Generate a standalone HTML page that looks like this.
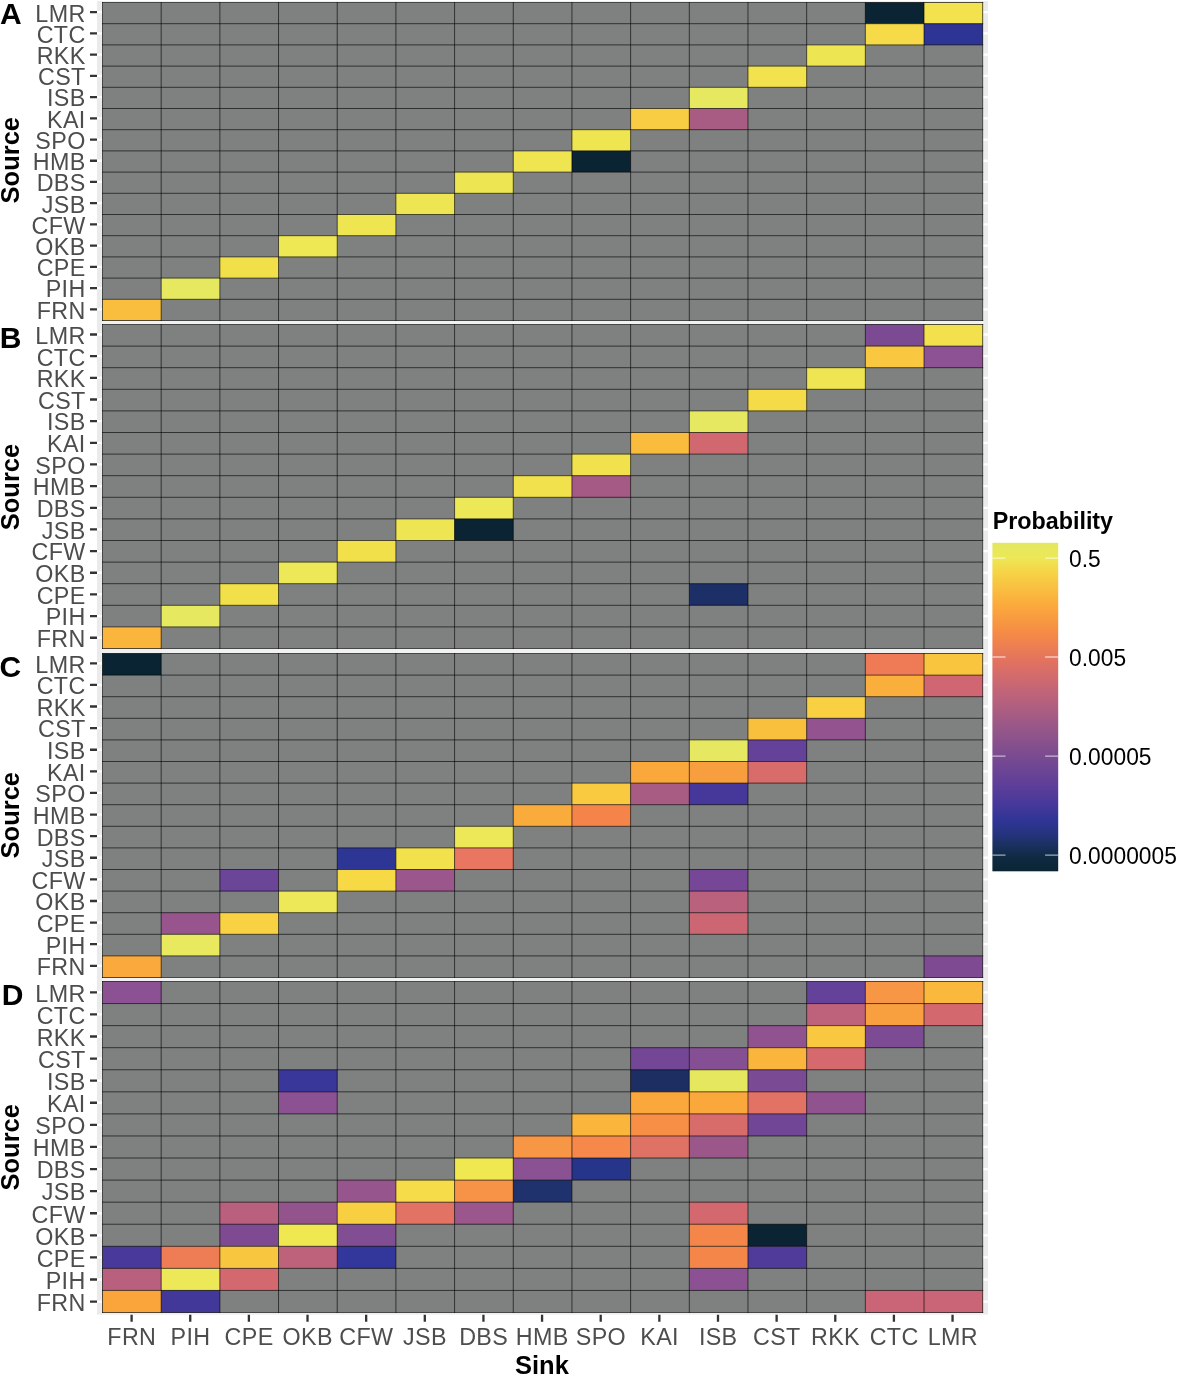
<!DOCTYPE html>
<html><head><meta charset="utf-8"><title>Source–Sink probability heatmaps</title>
<style>html,body{margin:0;padding:0;background:#fff}svg{display:block}text{font-family:"Liberation Sans",Arial,Helvetica,sans-serif}.ax{font-size:23.3px;fill:#4D4D4D;letter-spacing:0.35px}.ttl{font-size:25.5px;font-weight:bold;fill:#000}.tag{font-size:30px;font-weight:bold;fill:#000}.lg{font-size:22.8px;fill:#000}.lgt{font-size:23.3px;font-weight:bold;fill:#000}</style></head><body>
<svg width="1177" height="1374" viewBox="0 0 1177 1374">
<rect x="0" y="0" width="1177" height="1374" fill="#fff"/>
<rect x="97" y="1.1" width="891" height="1313.5" fill="#EBEBEB"/>
<rect x="101.4" y="1.6" width="882.4" height="1312" fill="#F1F1F1"/>
<path d="M97 12.20H988M97 33.42H988M97 54.64H988M97 75.86H988M97 97.09H988M97 118.31H988M97 139.53H988M97 160.75H988M97 181.97H988M97 203.19H988M97 224.41H988M97 245.64H988M97 266.86H988M97 288.08H988M97 309.30H988M97 334.50H988M97 356.16H988M97 377.82H988M97 399.48H988M97 421.14H988M97 442.80H988M97 464.46H988M97 486.12H988M97 507.79H988M97 529.45H988M97 551.11H988M97 572.77H988M97 594.43H988M97 616.09H988M97 637.75H988M97 663.30H988M97 684.91H988M97 706.51H988M97 728.12H988M97 749.73H988M97 771.34H988M97 792.94H988M97 814.55H988M97 836.16H988M97 857.76H988M97 879.37H988M97 900.98H988M97 922.59H988M97 944.19H988M97 965.80H988M97 992.30H988M97 1014.39H988M97 1036.49H988M97 1058.58H988M97 1080.67H988M97 1102.76H988M97 1124.86H988M97 1146.95H988M97 1169.04H988M97 1191.14H988M97 1213.23H988M97 1235.32H988M97 1257.41H988M97 1279.51H988M97 1301.60H988" stroke="#fff" stroke-width="2.3" fill="none"/>
<g id="panelA">
<rect x="102.5" y="2.5" width="880.20" height="318.00" fill="#7F8080"/>
<rect x="865.34" y="2.50" width="58.68" height="21.20" fill="#0B2433"/>
<rect x="924.02" y="2.50" width="58.68" height="21.20" fill="#F2E24E"/>
<rect x="865.34" y="23.70" width="58.68" height="21.20" fill="#F6DA48"/>
<rect x="924.02" y="23.70" width="58.68" height="21.20" fill="#2D3493"/>
<rect x="806.66" y="44.90" width="58.68" height="21.20" fill="#EEE552"/>
<rect x="747.98" y="66.10" width="58.68" height="21.20" fill="#F2E24E"/>
<rect x="689.30" y="87.30" width="58.68" height="21.20" fill="#E6E860"/>
<rect x="630.62" y="108.50" width="58.68" height="21.20" fill="#F8CD43"/>
<rect x="689.30" y="108.50" width="58.68" height="21.20" fill="#A85C83"/>
<rect x="571.94" y="129.70" width="58.68" height="21.20" fill="#EFE550"/>
<rect x="513.26" y="150.90" width="58.68" height="21.20" fill="#EFE550"/>
<rect x="571.94" y="150.90" width="58.68" height="21.20" fill="#0B2433"/>
<rect x="454.58" y="172.10" width="58.68" height="21.20" fill="#EEE552"/>
<rect x="395.90" y="193.30" width="58.68" height="21.20" fill="#EEE552"/>
<rect x="337.22" y="214.50" width="58.68" height="21.20" fill="#EFE550"/>
<rect x="278.54" y="235.70" width="58.68" height="21.20" fill="#EEE855"/>
<rect x="219.86" y="256.90" width="58.68" height="21.20" fill="#F1E04A"/>
<rect x="161.18" y="278.10" width="58.68" height="21.20" fill="#E6E860"/>
<rect x="102.50" y="299.30" width="58.68" height="21.20" fill="#F9BE3D"/>
<path d="M102.50 2.5V320.5M102.5 2.50H982.7M161.18 2.5V320.5M102.5 23.70H982.7M219.86 2.5V320.5M102.5 44.90H982.7M278.54 2.5V320.5M102.5 66.10H982.7M337.22 2.5V320.5M102.5 87.30H982.7M395.90 2.5V320.5M102.5 108.50H982.7M454.58 2.5V320.5M102.5 129.70H982.7M513.26 2.5V320.5M102.5 150.90H982.7M571.94 2.5V320.5M102.5 172.10H982.7M630.62 2.5V320.5M102.5 193.30H982.7M689.30 2.5V320.5M102.5 214.50H982.7M747.98 2.5V320.5M102.5 235.70H982.7M806.66 2.5V320.5M102.5 256.90H982.7M865.34 2.5V320.5M102.5 278.10H982.7M924.02 2.5V320.5M102.5 299.30H982.7M982.70 2.5V320.5M102.5 320.50H982.7" stroke="#000" stroke-width="0.62" fill="none" stroke-linecap="square"/>
</g>
<g id="panelB">
<rect x="102.5" y="324.5" width="880.20" height="324.00" fill="#7F8080"/>
<rect x="865.34" y="324.50" width="58.68" height="21.60" fill="#7B4A93"/>
<rect x="924.02" y="324.50" width="58.68" height="21.60" fill="#F3E04D"/>
<rect x="865.34" y="346.10" width="58.68" height="21.60" fill="#F9C740"/>
<rect x="924.02" y="346.10" width="58.68" height="21.60" fill="#8C5293"/>
<rect x="806.66" y="367.70" width="58.68" height="21.60" fill="#EFE552"/>
<rect x="747.98" y="389.30" width="58.68" height="21.60" fill="#F5DB47"/>
<rect x="689.30" y="410.90" width="58.68" height="21.60" fill="#E5E860"/>
<rect x="630.62" y="432.50" width="58.68" height="21.60" fill="#F9BC3D"/>
<rect x="689.30" y="432.50" width="58.68" height="21.60" fill="#D16870"/>
<rect x="571.94" y="454.10" width="58.68" height="21.60" fill="#F1E24D"/>
<rect x="513.26" y="475.70" width="58.68" height="21.60" fill="#F1E24D"/>
<rect x="571.94" y="475.70" width="58.68" height="21.60" fill="#A45A85"/>
<rect x="454.58" y="497.30" width="58.68" height="21.60" fill="#ECE858"/>
<rect x="395.90" y="518.90" width="58.68" height="21.60" fill="#EEE552"/>
<rect x="454.58" y="518.90" width="58.68" height="21.60" fill="#0B2433"/>
<rect x="337.22" y="540.50" width="58.68" height="21.60" fill="#F1E04A"/>
<rect x="278.54" y="562.10" width="58.68" height="21.60" fill="#ECE858"/>
<rect x="219.86" y="583.70" width="58.68" height="21.60" fill="#F1E04A"/>
<rect x="689.30" y="583.70" width="58.68" height="21.60" fill="#1C2F66"/>
<rect x="161.18" y="605.30" width="58.68" height="21.60" fill="#E6E860"/>
<rect x="102.50" y="626.90" width="58.68" height="21.60" fill="#FAB53C"/>
<path d="M102.50 324.5V648.5M102.5 324.50H982.7M161.18 324.5V648.5M102.5 346.10H982.7M219.86 324.5V648.5M102.5 367.70H982.7M278.54 324.5V648.5M102.5 389.30H982.7M337.22 324.5V648.5M102.5 410.90H982.7M395.90 324.5V648.5M102.5 432.50H982.7M454.58 324.5V648.5M102.5 454.10H982.7M513.26 324.5V648.5M102.5 475.70H982.7M571.94 324.5V648.5M102.5 497.30H982.7M630.62 324.5V648.5M102.5 518.90H982.7M689.30 324.5V648.5M102.5 540.50H982.7M747.98 324.5V648.5M102.5 562.10H982.7M806.66 324.5V648.5M102.5 583.70H982.7M865.34 324.5V648.5M102.5 605.30H982.7M924.02 324.5V648.5M102.5 626.90H982.7M982.70 324.5V648.5M102.5 648.50H982.7" stroke="#000" stroke-width="0.62" fill="none" stroke-linecap="square"/>
</g>
<g id="panelC">
<rect x="102.5" y="653.5" width="880.20" height="324.00" fill="#7F8080"/>
<rect x="102.50" y="653.50" width="58.68" height="21.60" fill="#0B2433"/>
<rect x="865.34" y="653.50" width="58.68" height="21.60" fill="#EE7B55"/>
<rect x="924.02" y="653.50" width="58.68" height="21.60" fill="#F9C53F"/>
<rect x="865.34" y="675.10" width="58.68" height="21.60" fill="#FAAE3C"/>
<rect x="924.02" y="675.10" width="58.68" height="21.60" fill="#CF6672"/>
<rect x="806.66" y="696.70" width="58.68" height="21.60" fill="#F8D042"/>
<rect x="747.98" y="718.30" width="58.68" height="21.60" fill="#F9C03E"/>
<rect x="806.66" y="718.30" width="58.68" height="21.60" fill="#92538F"/>
<rect x="689.30" y="739.90" width="58.68" height="21.60" fill="#E5E860"/>
<rect x="747.98" y="739.90" width="58.68" height="21.60" fill="#65429A"/>
<rect x="630.62" y="761.50" width="58.68" height="21.60" fill="#FAA83C"/>
<rect x="689.30" y="761.50" width="58.68" height="21.60" fill="#F79F3F"/>
<rect x="747.98" y="761.50" width="58.68" height="21.60" fill="#D86C6B"/>
<rect x="571.94" y="783.10" width="58.68" height="21.60" fill="#F9CA40"/>
<rect x="630.62" y="783.10" width="58.68" height="21.60" fill="#A85C84"/>
<rect x="689.30" y="783.10" width="58.68" height="21.60" fill="#45389A"/>
<rect x="513.26" y="804.70" width="58.68" height="21.60" fill="#F9AB3C"/>
<rect x="571.94" y="804.70" width="58.68" height="21.60" fill="#F5844A"/>
<rect x="454.58" y="826.30" width="58.68" height="21.60" fill="#ECE858"/>
<rect x="337.22" y="847.90" width="58.68" height="21.60" fill="#2D3595"/>
<rect x="395.90" y="847.90" width="58.68" height="21.60" fill="#F2E14C"/>
<rect x="454.58" y="847.90" width="58.68" height="21.60" fill="#E97660"/>
<rect x="219.86" y="869.50" width="58.68" height="21.60" fill="#6B4598"/>
<rect x="337.22" y="869.50" width="58.68" height="21.60" fill="#F6D945"/>
<rect x="395.90" y="869.50" width="58.68" height="21.60" fill="#9B568B"/>
<rect x="689.30" y="869.50" width="58.68" height="21.60" fill="#754796"/>
<rect x="278.54" y="891.10" width="58.68" height="21.60" fill="#ECE858"/>
<rect x="689.30" y="891.10" width="58.68" height="21.60" fill="#BA617E"/>
<rect x="161.18" y="912.70" width="58.68" height="21.60" fill="#98558D"/>
<rect x="219.86" y="912.70" width="58.68" height="21.60" fill="#F8D243"/>
<rect x="689.30" y="912.70" width="58.68" height="21.60" fill="#CD6673"/>
<rect x="161.18" y="934.30" width="58.68" height="21.60" fill="#E8E95E"/>
<rect x="102.50" y="955.90" width="58.68" height="21.60" fill="#FAA93C"/>
<rect x="924.02" y="955.90" width="58.68" height="21.60" fill="#7E4B93"/>
<path d="M102.50 653.5V977.5M102.5 653.50H982.7M161.18 653.5V977.5M102.5 675.10H982.7M219.86 653.5V977.5M102.5 696.70H982.7M278.54 653.5V977.5M102.5 718.30H982.7M337.22 653.5V977.5M102.5 739.90H982.7M395.90 653.5V977.5M102.5 761.50H982.7M454.58 653.5V977.5M102.5 783.10H982.7M513.26 653.5V977.5M102.5 804.70H982.7M571.94 653.5V977.5M102.5 826.30H982.7M630.62 653.5V977.5M102.5 847.90H982.7M689.30 653.5V977.5M102.5 869.50H982.7M747.98 653.5V977.5M102.5 891.10H982.7M806.66 653.5V977.5M102.5 912.70H982.7M865.34 653.5V977.5M102.5 934.30H982.7M924.02 653.5V977.5M102.5 955.90H982.7M982.70 653.5V977.5M102.5 977.50H982.7" stroke="#000" stroke-width="0.62" fill="none" stroke-linecap="square"/>
</g>
<g id="panelD">
<rect x="102.5" y="981.5" width="880.20" height="331.00" fill="#7F8080"/>
<rect x="102.50" y="981.50" width="58.68" height="22.07" fill="#8B5193"/>
<rect x="806.66" y="981.50" width="58.68" height="22.07" fill="#65429A"/>
<rect x="865.34" y="981.50" width="58.68" height="22.07" fill="#F79645"/>
<rect x="924.02" y="981.50" width="58.68" height="22.07" fill="#FAB83C"/>
<rect x="806.66" y="1003.57" width="58.68" height="22.07" fill="#BE627C"/>
<rect x="865.34" y="1003.57" width="58.68" height="22.07" fill="#F89F40"/>
<rect x="924.02" y="1003.57" width="58.68" height="22.07" fill="#D4686F"/>
<rect x="747.98" y="1025.63" width="58.68" height="22.07" fill="#90538F"/>
<rect x="806.66" y="1025.63" width="58.68" height="22.07" fill="#F9C840"/>
<rect x="865.34" y="1025.63" width="58.68" height="22.07" fill="#7D4B93"/>
<rect x="630.62" y="1047.70" width="58.68" height="22.07" fill="#734796"/>
<rect x="689.30" y="1047.70" width="58.68" height="22.07" fill="#855093"/>
<rect x="747.98" y="1047.70" width="58.68" height="22.07" fill="#FAB63C"/>
<rect x="806.66" y="1047.70" width="58.68" height="22.07" fill="#D5696E"/>
<rect x="278.54" y="1069.77" width="58.68" height="22.07" fill="#3A379A"/>
<rect x="630.62" y="1069.77" width="58.68" height="22.07" fill="#1D2F62"/>
<rect x="689.30" y="1069.77" width="58.68" height="22.07" fill="#E5E85F"/>
<rect x="747.98" y="1069.77" width="58.68" height="22.07" fill="#7B4A94"/>
<rect x="278.54" y="1091.83" width="58.68" height="22.07" fill="#8B5193"/>
<rect x="630.62" y="1091.83" width="58.68" height="22.07" fill="#FAA83C"/>
<rect x="689.30" y="1091.83" width="58.68" height="22.07" fill="#FAA83C"/>
<rect x="747.98" y="1091.83" width="58.68" height="22.07" fill="#E27263"/>
<rect x="806.66" y="1091.83" width="58.68" height="22.07" fill="#90538F"/>
<rect x="571.94" y="1113.90" width="58.68" height="22.07" fill="#FAB53C"/>
<rect x="630.62" y="1113.90" width="58.68" height="22.07" fill="#F78F47"/>
<rect x="689.30" y="1113.90" width="58.68" height="22.07" fill="#D86C6B"/>
<rect x="747.98" y="1113.90" width="58.68" height="22.07" fill="#714696"/>
<rect x="513.26" y="1135.97" width="58.68" height="22.07" fill="#F79645"/>
<rect x="571.94" y="1135.97" width="58.68" height="22.07" fill="#F5884A"/>
<rect x="630.62" y="1135.97" width="58.68" height="22.07" fill="#E07165"/>
<rect x="689.30" y="1135.97" width="58.68" height="22.07" fill="#9C578A"/>
<rect x="454.58" y="1158.03" width="58.68" height="22.07" fill="#EFE851"/>
<rect x="513.26" y="1158.03" width="58.68" height="22.07" fill="#8A5193"/>
<rect x="571.94" y="1158.03" width="58.68" height="22.07" fill="#26358A"/>
<rect x="337.22" y="1180.10" width="58.68" height="22.07" fill="#96558D"/>
<rect x="395.90" y="1180.10" width="58.68" height="22.07" fill="#F5DC48"/>
<rect x="454.58" y="1180.10" width="58.68" height="22.07" fill="#F79346"/>
<rect x="513.26" y="1180.10" width="58.68" height="22.07" fill="#1F326E"/>
<rect x="219.86" y="1202.17" width="58.68" height="22.07" fill="#B9607F"/>
<rect x="278.54" y="1202.17" width="58.68" height="22.07" fill="#93548E"/>
<rect x="337.22" y="1202.17" width="58.68" height="22.07" fill="#F9CF42"/>
<rect x="395.90" y="1202.17" width="58.68" height="22.07" fill="#E27263"/>
<rect x="454.58" y="1202.17" width="58.68" height="22.07" fill="#9B568B"/>
<rect x="689.30" y="1202.17" width="58.68" height="22.07" fill="#D3686F"/>
<rect x="219.86" y="1224.23" width="58.68" height="22.07" fill="#7E4B93"/>
<rect x="278.54" y="1224.23" width="58.68" height="22.07" fill="#EFE851"/>
<rect x="337.22" y="1224.23" width="58.68" height="22.07" fill="#814D93"/>
<rect x="689.30" y="1224.23" width="58.68" height="22.07" fill="#F5864A"/>
<rect x="747.98" y="1224.23" width="58.68" height="22.07" fill="#0B2433"/>
<rect x="102.50" y="1246.30" width="58.68" height="22.07" fill="#48399B"/>
<rect x="161.18" y="1246.30" width="58.68" height="22.07" fill="#EE7C55"/>
<rect x="219.86" y="1246.30" width="58.68" height="22.07" fill="#F9C73F"/>
<rect x="278.54" y="1246.30" width="58.68" height="22.07" fill="#BE627C"/>
<rect x="337.22" y="1246.30" width="58.68" height="22.07" fill="#33369A"/>
<rect x="689.30" y="1246.30" width="58.68" height="22.07" fill="#F5864A"/>
<rect x="747.98" y="1246.30" width="58.68" height="22.07" fill="#503B9B"/>
<rect x="102.50" y="1268.37" width="58.68" height="22.07" fill="#B9607F"/>
<rect x="161.18" y="1268.37" width="58.68" height="22.07" fill="#ECE858"/>
<rect x="219.86" y="1268.37" width="58.68" height="22.07" fill="#D3686F"/>
<rect x="689.30" y="1268.37" width="58.68" height="22.07" fill="#8B5193"/>
<rect x="102.50" y="1290.43" width="58.68" height="22.07" fill="#FAA53C"/>
<rect x="161.18" y="1290.43" width="58.68" height="22.07" fill="#41389A"/>
<rect x="865.34" y="1290.43" width="58.68" height="22.07" fill="#C96576"/>
<rect x="924.02" y="1290.43" width="58.68" height="22.07" fill="#C96576"/>
<path d="M102.50 981.5V1312.5M102.5 981.50H982.7M161.18 981.5V1312.5M102.5 1003.57H982.7M219.86 981.5V1312.5M102.5 1025.63H982.7M278.54 981.5V1312.5M102.5 1047.70H982.7M337.22 981.5V1312.5M102.5 1069.77H982.7M395.90 981.5V1312.5M102.5 1091.83H982.7M454.58 981.5V1312.5M102.5 1113.90H982.7M513.26 981.5V1312.5M102.5 1135.97H982.7M571.94 981.5V1312.5M102.5 1158.03H982.7M630.62 981.5V1312.5M102.5 1180.10H982.7M689.30 981.5V1312.5M102.5 1202.17H982.7M747.98 981.5V1312.5M102.5 1224.23H982.7M806.66 981.5V1312.5M102.5 1246.30H982.7M865.34 981.5V1312.5M102.5 1268.37H982.7M924.02 981.5V1312.5M102.5 1290.43H982.7M982.70 981.5V1312.5M102.5 1312.50H982.7" stroke="#000" stroke-width="0.62" fill="none" stroke-linecap="square"/>
</g>
<text class="ax" transform="translate(85.60 21.55) scale(1 1.03)" text-anchor="end">LMR</text>
<text class="ax" transform="translate(85.60 42.77) scale(1 1.03)" text-anchor="end">CTC</text>
<text class="ax" transform="translate(85.60 63.99) scale(1 1.03)" text-anchor="end">RKK</text>
<text class="ax" transform="translate(85.60 85.21) scale(1 1.03)" text-anchor="end">CST</text>
<text class="ax" transform="translate(85.60 106.44) scale(1 1.03)" text-anchor="end">ISB</text>
<text class="ax" transform="translate(85.60 127.66) scale(1 1.03)" text-anchor="end">KAI</text>
<text class="ax" transform="translate(85.60 148.88) scale(1 1.03)" text-anchor="end">SPO</text>
<text class="ax" transform="translate(85.60 170.10) scale(1 1.03)" text-anchor="end">HMB</text>
<text class="ax" transform="translate(85.60 191.32) scale(1 1.03)" text-anchor="end">DBS</text>
<text class="ax" transform="translate(85.60 212.54) scale(1 1.03)" text-anchor="end">JSB</text>
<text class="ax" transform="translate(85.60 233.76) scale(1 1.03)" text-anchor="end">CFW</text>
<text class="ax" transform="translate(85.60 254.99) scale(1 1.03)" text-anchor="end">OKB</text>
<text class="ax" transform="translate(85.60 276.21) scale(1 1.03)" text-anchor="end">CPE</text>
<text class="ax" transform="translate(85.60 297.43) scale(1 1.03)" text-anchor="end">PIH</text>
<text class="ax" transform="translate(85.60 318.65) scale(1 1.03)" text-anchor="end">FRN</text>
<text class="tag" x="0.1" y="23.7">A</text>
<text class="ttl" transform="translate(19.0 160.2) rotate(-90)" text-anchor="middle">Source</text>
<text class="ax" transform="translate(85.60 343.85) scale(1 1.03)" text-anchor="end">LMR</text>
<text class="ax" transform="translate(85.60 365.51) scale(1 1.03)" text-anchor="end">CTC</text>
<text class="ax" transform="translate(85.60 387.17) scale(1 1.03)" text-anchor="end">RKK</text>
<text class="ax" transform="translate(85.60 408.83) scale(1 1.03)" text-anchor="end">CST</text>
<text class="ax" transform="translate(85.60 430.49) scale(1 1.03)" text-anchor="end">ISB</text>
<text class="ax" transform="translate(85.60 452.15) scale(1 1.03)" text-anchor="end">KAI</text>
<text class="ax" transform="translate(85.60 473.81) scale(1 1.03)" text-anchor="end">SPO</text>
<text class="ax" transform="translate(85.60 495.48) scale(1 1.03)" text-anchor="end">HMB</text>
<text class="ax" transform="translate(85.60 517.14) scale(1 1.03)" text-anchor="end">DBS</text>
<text class="ax" transform="translate(85.60 538.80) scale(1 1.03)" text-anchor="end">JSB</text>
<text class="ax" transform="translate(85.60 560.46) scale(1 1.03)" text-anchor="end">CFW</text>
<text class="ax" transform="translate(85.60 582.12) scale(1 1.03)" text-anchor="end">OKB</text>
<text class="ax" transform="translate(85.60 603.78) scale(1 1.03)" text-anchor="end">CPE</text>
<text class="ax" transform="translate(85.60 625.44) scale(1 1.03)" text-anchor="end">PIH</text>
<text class="ax" transform="translate(85.60 647.10) scale(1 1.03)" text-anchor="end">FRN</text>
<text class="tag" x="-0.2" y="347.9">B</text>
<text class="ttl" transform="translate(19.0 487.0) rotate(-90)" text-anchor="middle">Source</text>
<text class="ax" transform="translate(85.60 672.65) scale(1 1.03)" text-anchor="end">LMR</text>
<text class="ax" transform="translate(85.60 694.26) scale(1 1.03)" text-anchor="end">CTC</text>
<text class="ax" transform="translate(85.60 715.86) scale(1 1.03)" text-anchor="end">RKK</text>
<text class="ax" transform="translate(85.60 737.47) scale(1 1.03)" text-anchor="end">CST</text>
<text class="ax" transform="translate(85.60 759.08) scale(1 1.03)" text-anchor="end">ISB</text>
<text class="ax" transform="translate(85.60 780.69) scale(1 1.03)" text-anchor="end">KAI</text>
<text class="ax" transform="translate(85.60 802.29) scale(1 1.03)" text-anchor="end">SPO</text>
<text class="ax" transform="translate(85.60 823.90) scale(1 1.03)" text-anchor="end">HMB</text>
<text class="ax" transform="translate(85.60 845.51) scale(1 1.03)" text-anchor="end">DBS</text>
<text class="ax" transform="translate(85.60 867.11) scale(1 1.03)" text-anchor="end">JSB</text>
<text class="ax" transform="translate(85.60 888.72) scale(1 1.03)" text-anchor="end">CFW</text>
<text class="ax" transform="translate(85.60 910.33) scale(1 1.03)" text-anchor="end">OKB</text>
<text class="ax" transform="translate(85.60 931.94) scale(1 1.03)" text-anchor="end">CPE</text>
<text class="ax" transform="translate(85.60 953.54) scale(1 1.03)" text-anchor="end">PIH</text>
<text class="ax" transform="translate(85.60 975.15) scale(1 1.03)" text-anchor="end">FRN</text>
<text class="tag" x="-0.4" y="677.4">C</text>
<text class="ttl" transform="translate(19.0 815.2) rotate(-90)" text-anchor="middle">Source</text>
<text class="ax" transform="translate(85.60 1001.65) scale(1 1.03)" text-anchor="end">LMR</text>
<text class="ax" transform="translate(85.60 1023.74) scale(1 1.03)" text-anchor="end">CTC</text>
<text class="ax" transform="translate(85.60 1045.84) scale(1 1.03)" text-anchor="end">RKK</text>
<text class="ax" transform="translate(85.60 1067.93) scale(1 1.03)" text-anchor="end">CST</text>
<text class="ax" transform="translate(85.60 1090.02) scale(1 1.03)" text-anchor="end">ISB</text>
<text class="ax" transform="translate(85.60 1112.11) scale(1 1.03)" text-anchor="end">KAI</text>
<text class="ax" transform="translate(85.60 1134.21) scale(1 1.03)" text-anchor="end">SPO</text>
<text class="ax" transform="translate(85.60 1156.30) scale(1 1.03)" text-anchor="end">HMB</text>
<text class="ax" transform="translate(85.60 1178.39) scale(1 1.03)" text-anchor="end">DBS</text>
<text class="ax" transform="translate(85.60 1200.49) scale(1 1.03)" text-anchor="end">JSB</text>
<text class="ax" transform="translate(85.60 1222.58) scale(1 1.03)" text-anchor="end">CFW</text>
<text class="ax" transform="translate(85.60 1244.67) scale(1 1.03)" text-anchor="end">OKB</text>
<text class="ax" transform="translate(85.60 1266.76) scale(1 1.03)" text-anchor="end">CPE</text>
<text class="ax" transform="translate(85.60 1288.86) scale(1 1.03)" text-anchor="end">PIH</text>
<text class="ax" transform="translate(85.60 1310.95) scale(1 1.03)" text-anchor="end">FRN</text>
<text class="tag" x="1.7" y="1005.1">D</text>
<text class="ttl" transform="translate(19.0 1147.3) rotate(-90)" text-anchor="middle">Source</text>
<text class="ax" transform="translate(131.80 1344.60) scale(1 1.03)" text-anchor="middle">FRN</text>
<text class="ax" transform="translate(190.44 1344.60) scale(1 1.03)" text-anchor="middle">PIH</text>
<text class="ax" transform="translate(249.08 1344.60) scale(1 1.03)" text-anchor="middle">CPE</text>
<text class="ax" transform="translate(307.72 1344.60) scale(1 1.03)" text-anchor="middle">OKB</text>
<text class="ax" transform="translate(366.36 1344.60) scale(1 1.03)" text-anchor="middle">CFW</text>
<text class="ax" transform="translate(425.00 1344.60) scale(1 1.03)" text-anchor="middle">JSB</text>
<text class="ax" transform="translate(483.64 1344.60) scale(1 1.03)" text-anchor="middle">DBS</text>
<text class="ax" transform="translate(542.27 1344.60) scale(1 1.03)" text-anchor="middle">HMB</text>
<text class="ax" transform="translate(600.91 1344.60) scale(1 1.03)" text-anchor="middle">SPO</text>
<text class="ax" transform="translate(659.55 1344.60) scale(1 1.03)" text-anchor="middle">KAI</text>
<text class="ax" transform="translate(718.19 1344.60) scale(1 1.03)" text-anchor="middle">ISB</text>
<text class="ax" transform="translate(776.83 1344.60) scale(1 1.03)" text-anchor="middle">CST</text>
<text class="ax" transform="translate(835.47 1344.60) scale(1 1.03)" text-anchor="middle">RKK</text>
<text class="ax" transform="translate(894.11 1344.60) scale(1 1.03)" text-anchor="middle">CTC</text>
<text class="ax" transform="translate(952.75 1344.60) scale(1 1.03)" text-anchor="middle">LMR</text>
<path d="M90 12.20H97M90 33.42H97M90 54.64H97M90 75.86H97M90 97.09H97M90 118.31H97M90 139.53H97M90 160.75H97M90 181.97H97M90 203.19H97M90 224.41H97M90 245.64H97M90 266.86H97M90 288.08H97M90 309.30H97M90 334.50H97M90 356.16H97M90 377.82H97M90 399.48H97M90 421.14H97M90 442.80H97M90 464.46H97M90 486.12H97M90 507.79H97M90 529.45H97M90 551.11H97M90 572.77H97M90 594.43H97M90 616.09H97M90 637.75H97M90 663.30H97M90 684.91H97M90 706.51H97M90 728.12H97M90 749.73H97M90 771.34H97M90 792.94H97M90 814.55H97M90 836.16H97M90 857.76H97M90 879.37H97M90 900.98H97M90 922.59H97M90 944.19H97M90 965.80H97M90 992.30H97M90 1014.39H97M90 1036.49H97M90 1058.58H97M90 1080.67H97M90 1102.76H97M90 1124.86H97M90 1146.95H97M90 1169.04H97M90 1191.14H97M90 1213.23H97M90 1235.32H97M90 1257.41H97M90 1279.51H97M90 1301.60H97M131.60 1314.8V1321.7M190.24 1314.8V1321.7M248.88 1314.8V1321.7M307.52 1314.8V1321.7M366.16 1314.8V1321.7M424.80 1314.8V1321.7M483.44 1314.8V1321.7M542.07 1314.8V1321.7M600.71 1314.8V1321.7M659.35 1314.8V1321.7M717.99 1314.8V1321.7M776.63 1314.8V1321.7M835.27 1314.8V1321.7M893.91 1314.8V1321.7M952.55 1314.8V1321.7" stroke="#333" stroke-width="2.3" fill="none"/>
<text class="ttl" x="541.9" y="1374.1" text-anchor="middle">Sink</text>
<defs><linearGradient id="lg" x1="0" y1="0" x2="0" y2="1">
<stop offset="0" stop-color="#E3E760"/>
<stop offset="0.045" stop-color="#ECE857"/>
<stop offset="0.091" stop-color="#F6D346"/>
<stop offset="0.182" stop-color="#FBAD3C"/>
<stop offset="0.273" stop-color="#F68B45"/>
<stop offset="0.364" stop-color="#E17161"/>
<stop offset="0.4545" stop-color="#C16479"/>
<stop offset="0.545" stop-color="#9E5987"/>
<stop offset="0.636" stop-color="#7E4D8F"/>
<stop offset="0.74" stop-color="#5D3E99"/>
<stop offset="0.8" stop-color="#45389A"/>
<stop offset="0.845" stop-color="#2F3596"/>
<stop offset="0.885" stop-color="#25347F"/>
<stop offset="0.92" stop-color="#1B3060"/>
<stop offset="0.957" stop-color="#0F2A42"/>
<stop offset="1" stop-color="#0A2434"/>
</linearGradient></defs>
<rect x="992.4" y="542.8" width="65.8" height="328.5" fill="url(#lg)"/>
<text class="lg" transform="translate(1069.10 566.80) scale(1 1.04)">0.5</text>
<text class="lg" transform="translate(1069.10 665.70) scale(1 1.04)">0.005</text>
<text class="lg" transform="translate(1069.10 764.80) scale(1 1.04)">0.00005</text>
<text class="lg" transform="translate(1069.10 863.80) scale(1 1.04)">0.0000005</text>
<path d="M992.4 558.1h13.1M1058.2 558.1h-13.1M992.4 657.0h13.1M1058.2 657.0h-13.1M992.4 756.1h13.1M1058.2 756.1h-13.1M992.4 855.1h13.1M1058.2 855.1h-13.1" stroke="#fff" stroke-opacity="0.6" stroke-width="1.4" fill="none"/>
<text class="lgt" x="992.7" y="528.7">Probability</text>
</svg></body></html>
